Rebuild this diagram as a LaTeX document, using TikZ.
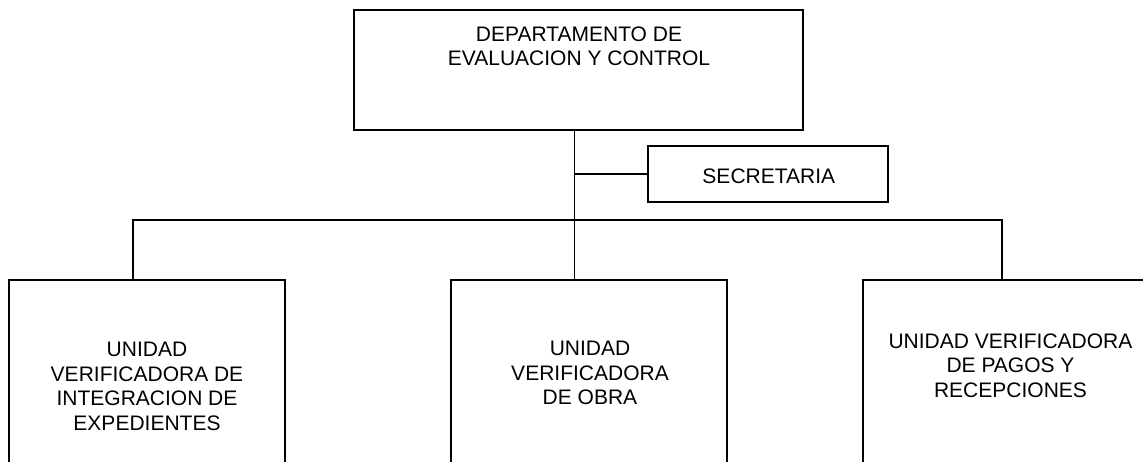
\documentclass[tikz,border=0pt]{standalone}
\usepackage{fontspec}
\setmainfont{Liberation Sans}
\newlength{\du}
\setlength{\du}{1pt}
\tikzset{
  unitbox/.style={draw=black, line width=2.2\du, fill=white, inner sep=0pt},
  unittext/.style={align=center, inner sep=0pt, font=\fontsize{21}{24.5}\selectfont},
  orgline/.style={draw=black, line width=1.8\du}
}

\begin{document}
\begin{tikzpicture}
\pgftransformxscale{1.000000}
\pgftransformyscale{-1.000000}
\useasboundingbox (0\du,0\du) rectangle (1143\du,461\du);
\clip (0\du,0\du) rectangle (1143\du,461\du);
% boxes
\node[unitbox, minimum width=449\du, minimum height=120\du] (dep) at (578.5\du,70\du) {};
\node[unitbox, minimum width=240\du, minimum height=56\du] (sec) at (768\du,174\du) {};
\node[unitbox, minimum width=276\du, minimum height=200\du] (uie) at (147\du,380\du) {};
\node[unitbox, minimum width=276\du, minimum height=200\du] (uvo) at (589\du,380\du) {};
\node[unitbox, minimum width=300\du, minimum height=200\du] (uvp) at (1013\du,380\du) {};
% texts
\node[unittext] (deptxt) at (579\du,46.5\du) {DEPARTAMENTO DE\\EVALUACION Y CONTROL};
\node[unittext] (sectxt) at (768.8\du,176.5\du) {SECRETARIA};
\node[unittext] (uietxt) at (147\du,386.5\du) {UNIDAD\\VERIFICADORA DE\\INTEGRACION DE\\EXPEDIENTES};
\node[unittext] (uvotxt) at (590\du,373\du) {UNIDAD\\VERIFICADORA\\DE OBRA};
\node[unittext] (uvptxt) at (1010.5\du,365.5\du) {UNIDAD VERIFICADORA\\DE PAGOS Y\\RECEPCIONES};
% connectors
\coordinate (trunk) at (574.5\du,220\du);
\coordinate (busl) at (133\du,220\du);
\coordinate (busr) at (1002\du,220\du);
\draw[orgline] (dep.south -| trunk) -- (uvo.north -| trunk);
\draw[orgline] (sec.west -| trunk) -- (sec.west);
\draw[orgline] (busl |- uie.north) -- (busl) -- (busr) -- (busr |- uvp.north);
\end{tikzpicture}
\end{document}
